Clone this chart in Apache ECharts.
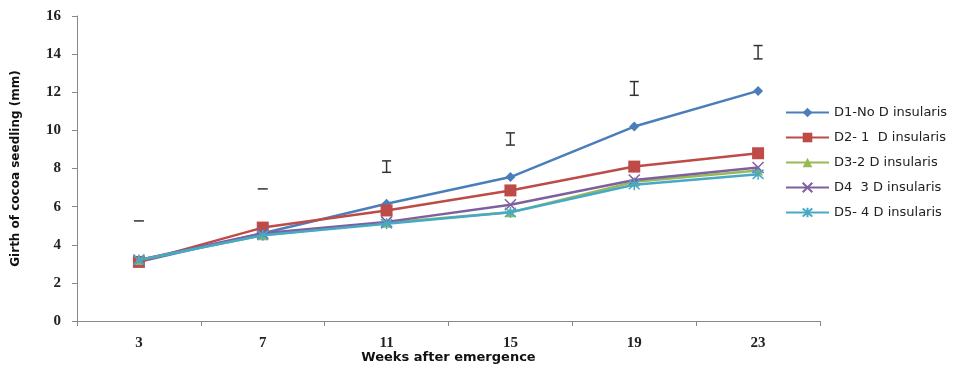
<!DOCTYPE html>
<html><head><meta charset="utf-8">
<script src="https://cdn.jsdelivr.net/npm/echarts@6/dist/echarts.min.js"></script>
<style>html,body{margin:0;padding:0;background:#fff}#c{width:966px;height:368px}</style>
</head><body><div id="c"></div>
<script>
const weeks = ['3', '7', '11', '15', '19', '23'];
const seriesNames = ['D1-No D insularis', 'D2- 1  D insularis', 'D3-2 D insularis', 'D4  3 D insularis', 'D5- 4 D insularis'];
const d1 = [3.1, 4.6, 6.15, 7.55, 10.2, 12.07];
const d2 = [3.1, 4.9, 5.8, 6.85, 8.1, 8.8];
const d3 = [3.2, 4.5, 5.15, 5.7, 7.3, 7.9];
const d4 = [3.2, 4.6, 5.2, 6.1, 7.4, 8.05];
const d5 = [3.2, 4.5, 5.1, 5.7, 7.15, 7.7];
// LSD bars: centre and half-length
const lsdCentre = [5.25, 6.93, 8.1, 9.55, 12.2, 14.1];
const lsdHalf = [0, 0, 0.3, 0.32, 0.36, 0.35];
const yTicks = [0, 2, 4, 6, 8, 10, 12, 14, 16];

const colors = ['#4a7ebb', '#be4b48', '#98b954', '#7d60a0', '#46aac5'];
const xPath = 'path://M0,0L10,10M10,0L0,10';
const starPath = 'path://M0,0L10,10M10,0L0,10M5,-1L5,11';
const symbols = ['diamond', 'rect', 'triangle', xPath, starPath];
const sizes = [10, 12, 10, 11, 11];
const allData = [d1, d2, d3, d4, d5];

const lineSeries = allData.map((d, i) => ({
  name: seriesNames[i], type: 'line', data: d,
  symbol: symbols[i], symbolSize: sizes[i],
  lineStyle: { color: colors[i], width: 2.5 },
  itemStyle: { color: i >= 3 ? 'transparent' : colors[i], borderColor: colors[i], borderWidth: i >= 3 ? 1.5 : 0 },
  z: 3 + i, animation: false
}));

const errData = weeks.map((w, i) => [i, lsdCentre[i], lsdHalf[i]]);
const errSeries = {
  type: 'custom', name: 'LSD', data: errData, silent: true, z: 10,
  renderItem: function (params, api) {
    const x = api.value(0), c = api.value(1), h = api.value(2);
    const top = api.coord([x, c + h]);
    const bot = api.coord([x, c - h]);
    const w = h === 0 ? 5 : 4.5;
    const style = { stroke: '#333', lineWidth: 1.5 };
    const children = [];
    if (h === 0) {
      children.push({ type: 'line', shape: { x1: top[0] - w, y1: top[1], x2: top[0] + w, y2: top[1] }, style: style });
    } else {
      children.push({ type: 'line', shape: { x1: top[0], y1: top[1], x2: bot[0], y2: bot[1] }, style: style });
      children.push({ type: 'line', shape: { x1: top[0] - w, y1: top[1], x2: top[0] + w, y2: top[1] }, style: style });
      children.push({ type: 'line', shape: { x1: bot[0] - w, y1: bot[1], x2: bot[0] + w, y2: bot[1] }, style: style });
    }
    return { type: 'group', children: children };
  },
  animation: false
};

const chart = echarts.init(document.getElementById('c'));
chart.setOption({
  animation: false,
  backgroundColor: '#fff',
  grid: { left: 77, right: 146, top: 16, bottom: 47, outerBoundsMode: 'none', containLabel: false },
  legend: {
    data: seriesNames, orient: 'vertical', left: 780, top: 101,
    itemWidth: 43, itemHeight: 12, itemGap: 12,
    textStyle: { fontFamily: 'DejaVu Sans', fontSize: 13, color: '#222' }
  },
  xAxis: {
    type: 'category', data: weeks, boundaryGap: true,
    name: 'Weeks after emergence', nameLocation: 'middle', nameGap: 30, nameMoveOverlap: false,
    nameTextStyle: { fontFamily: 'DejaVu Sans', fontWeight: 'bold', fontSize: 13, color: '#111' },
    axisLine: { lineStyle: { color: '#888', width: 1 } },
    axisTick: { show: true, length: 5, lineStyle: { color: '#888' } },
    axisLabel: { fontFamily: 'Liberation Serif', fontWeight: 'bold', fontSize: 15, color: '#222', margin: 15 }
  },
  yAxis: {
    type: 'value', min: yTicks[0], max: yTicks[yTicks.length - 1], interval: 2,
    name: 'Girth of cocoa seedling (mm)', nameLocation: 'middle', nameGap: 55, nameRotate: 90, nameMoveOverlap: false,
    nameTextStyle: { fontFamily: 'DejaVu Sans', fontWeight: 'bold', fontSize: 12, color: '#111' },
    axisLine: { show: true, lineStyle: { color: '#888', width: 1 } },
    axisTick: { show: true, length: 5, lineStyle: { color: '#888' } },
    splitLine: { show: false },
    axisLabel: { fontFamily: 'Liberation Serif', fontWeight: 'bold', fontSize: 15, color: '#222', margin: 16 }
  },
  series: lineSeries.concat([errSeries])
});
</script></body></html>
